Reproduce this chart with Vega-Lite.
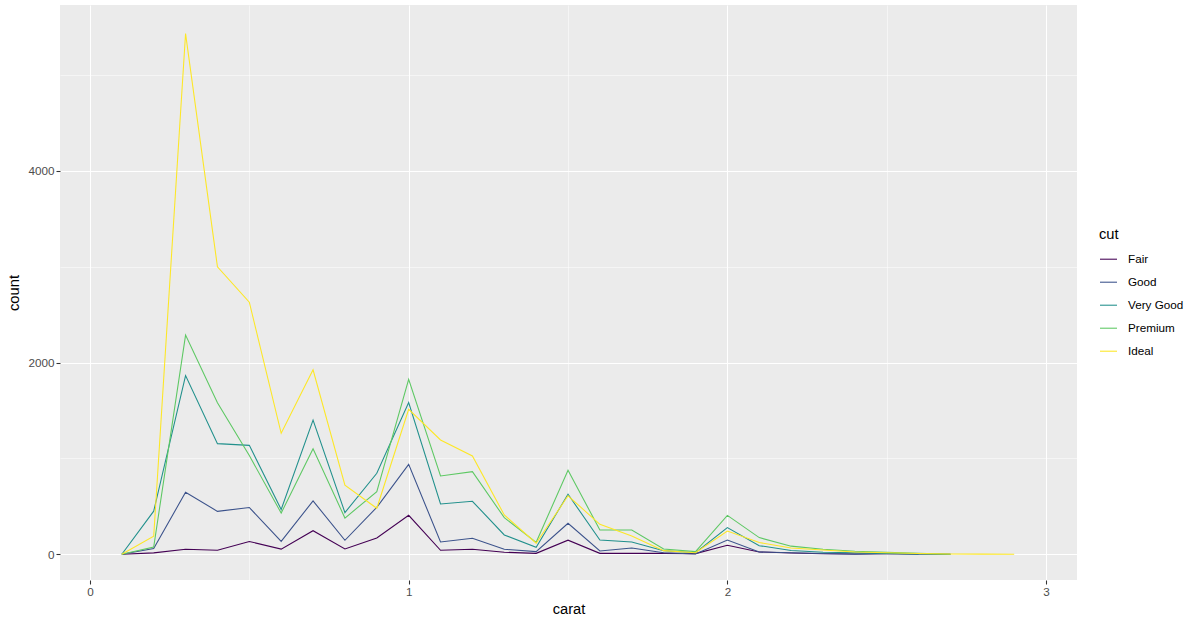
{
  "$schema": "https://vega.github.io/schema/vega-lite/v6.json",
  "width": 1017,
  "height": 575,
  "autosize": {"type": "none"},
  "padding": {"left": 60, "top": 5, "right": 123, "bottom": 45},
  "background": "white",
  "config": {
    "font": "Liberation Sans",
    "view": {"fill": "#EBEBEB", "stroke": null}
  },
  "datasets": {
    "freq": [
      {"carat": 0.1, "cut": "Fair", "count": 0},
      {"carat": 0.2, "cut": "Fair", "count": 15},
      {"carat": 0.3, "cut": "Fair", "count": 52},
      {"carat": 0.4, "cut": "Fair", "count": 43},
      {"carat": 0.5, "cut": "Fair", "count": 134},
      {"carat": 0.6, "cut": "Fair", "count": 54},
      {"carat": 0.7, "cut": "Fair", "count": 246},
      {"carat": 0.8, "cut": "Fair", "count": 56},
      {"carat": 0.9, "cut": "Fair", "count": 170},
      {"carat": 1.0, "cut": "Fair", "count": 407},
      {"carat": 1.1, "cut": "Fair", "count": 42},
      {"carat": 1.2, "cut": "Fair", "count": 52},
      {"carat": 1.3, "cut": "Fair", "count": 21},
      {"carat": 1.4, "cut": "Fair", "count": 10},
      {"carat": 1.5, "cut": "Fair", "count": 147},
      {"carat": 1.6, "cut": "Fair", "count": 10},
      {"carat": 1.7, "cut": "Fair", "count": 10},
      {"carat": 1.8, "cut": "Fair", "count": 10},
      {"carat": 1.9, "cut": "Fair", "count": 7},
      {"carat": 2.0, "cut": "Fair", "count": 94},
      {"carat": 2.1, "cut": "Fair", "count": 24},
      {"carat": 2.2, "cut": "Fair", "count": 14},
      {"carat": 2.3, "cut": "Fair", "count": 6},
      {"carat": 2.4, "cut": "Fair", "count": 4},
      {"carat": 2.5, "cut": "Fair", "count": 5},
      {"carat": 2.6, "cut": "Fair", "count": 3},
      {"carat": 2.7, "cut": "Fair", "count": 0},

      {"carat": 0.1, "cut": "Good", "count": 0},
      {"carat": 0.2, "cut": "Good", "count": 60},
      {"carat": 0.3, "cut": "Good", "count": 647},
      {"carat": 0.4, "cut": "Good", "count": 448},
      {"carat": 0.5, "cut": "Good", "count": 488},
      {"carat": 0.6, "cut": "Good", "count": 134},
      {"carat": 0.7, "cut": "Good", "count": 557},
      {"carat": 0.8, "cut": "Good", "count": 146},
      {"carat": 0.9, "cut": "Good", "count": 490},
      {"carat": 1.0, "cut": "Good", "count": 938},
      {"carat": 1.1, "cut": "Good", "count": 129},
      {"carat": 1.2, "cut": "Good", "count": 167},
      {"carat": 1.3, "cut": "Good", "count": 52},
      {"carat": 1.4, "cut": "Good", "count": 28},
      {"carat": 1.5, "cut": "Good", "count": 323},
      {"carat": 1.6, "cut": "Good", "count": 35},
      {"carat": 1.7, "cut": "Good", "count": 66},
      {"carat": 1.8, "cut": "Good", "count": 17},
      {"carat": 1.9, "cut": "Good", "count": 3},
      {"carat": 2.0, "cut": "Good", "count": 149},
      {"carat": 2.1, "cut": "Good", "count": 24},
      {"carat": 2.2, "cut": "Good", "count": 17},
      {"carat": 2.3, "cut": "Good", "count": 8},
      {"carat": 2.4, "cut": "Good", "count": 2},
      {"carat": 2.5, "cut": "Good", "count": 10},
      {"carat": 2.6, "cut": "Good", "count": 0},

      {"carat": 0.1, "cut": "Very Good", "count": 0},
      {"carat": 0.2, "cut": "Very Good", "count": 450},
      {"carat": 0.3, "cut": "Very Good", "count": 1863},
      {"carat": 0.4, "cut": "Very Good", "count": 1154},
      {"carat": 0.5, "cut": "Very Good", "count": 1136},
      {"carat": 0.6, "cut": "Very Good", "count": 467},
      {"carat": 0.7, "cut": "Very Good", "count": 1400},
      {"carat": 0.8, "cut": "Very Good", "count": 435},
      {"carat": 0.9, "cut": "Very Good", "count": 845},
      {"carat": 1.0, "cut": "Very Good", "count": 1582},
      {"carat": 1.1, "cut": "Very Good", "count": 525},
      {"carat": 1.2, "cut": "Very Good", "count": 553},
      {"carat": 1.3, "cut": "Very Good", "count": 202},
      {"carat": 1.4, "cut": "Very Good", "count": 73},
      {"carat": 1.5, "cut": "Very Good", "count": 626},
      {"carat": 1.6, "cut": "Very Good", "count": 149},
      {"carat": 1.7, "cut": "Very Good", "count": 128},
      {"carat": 1.8, "cut": "Very Good", "count": 38},
      {"carat": 1.9, "cut": "Very Good", "count": 17},
      {"carat": 2.0, "cut": "Very Good", "count": 278},
      {"carat": 2.1, "cut": "Very Good", "count": 90},
      {"carat": 2.2, "cut": "Very Good", "count": 40},
      {"carat": 2.3, "cut": "Very Good", "count": 21},
      {"carat": 2.4, "cut": "Very Good", "count": 17},
      {"carat": 2.5, "cut": "Very Good", "count": 10},
      {"carat": 2.6, "cut": "Very Good", "count": 4},
      {"carat": 2.7, "cut": "Very Good", "count": 0},

      {"carat": 0.1, "cut": "Premium", "count": 0},
      {"carat": 0.2, "cut": "Premium", "count": 75},
      {"carat": 0.3, "cut": "Premium", "count": 2286},
      {"carat": 0.4, "cut": "Premium", "count": 1580},
      {"carat": 0.5, "cut": "Premium", "count": 1030},
      {"carat": 0.6, "cut": "Premium", "count": 430},
      {"carat": 0.7, "cut": "Premium", "count": 1100},
      {"carat": 0.8, "cut": "Premium", "count": 378},
      {"carat": 0.9, "cut": "Premium", "count": 653},
      {"carat": 1.0, "cut": "Premium", "count": 1825},
      {"carat": 1.1, "cut": "Premium", "count": 817},
      {"carat": 1.2, "cut": "Premium", "count": 862},
      {"carat": 1.3, "cut": "Premium", "count": 382},
      {"carat": 1.4, "cut": "Premium", "count": 125},
      {"carat": 1.5, "cut": "Premium", "count": 876},
      {"carat": 1.6, "cut": "Premium", "count": 253},
      {"carat": 1.7, "cut": "Premium", "count": 253},
      {"carat": 1.8, "cut": "Premium", "count": 56},
      {"carat": 1.9, "cut": "Premium", "count": 28},
      {"carat": 2.0, "cut": "Premium", "count": 406},
      {"carat": 2.1, "cut": "Premium", "count": 174},
      {"carat": 2.2, "cut": "Premium", "count": 85},
      {"carat": 2.3, "cut": "Premium", "count": 52},
      {"carat": 2.4, "cut": "Premium", "count": 31},
      {"carat": 2.5, "cut": "Premium", "count": 21},
      {"carat": 2.6, "cut": "Premium", "count": 10},
      {"carat": 2.7, "cut": "Premium", "count": 0},

      {"carat": 0.1, "cut": "Ideal", "count": 0},
      {"carat": 0.2, "cut": "Ideal", "count": 188},
      {"carat": 0.3, "cut": "Ideal", "count": 5430},
      {"carat": 0.4, "cut": "Ideal", "count": 2998},
      {"carat": 0.5, "cut": "Ideal", "count": 2629},
      {"carat": 0.6, "cut": "Ideal", "count": 1262},
      {"carat": 0.7, "cut": "Ideal", "count": 1924},
      {"carat": 0.8, "cut": "Ideal", "count": 720},
      {"carat": 0.9, "cut": "Ideal", "count": 480},
      {"carat": 1.0, "cut": "Ideal", "count": 1512},
      {"carat": 1.1, "cut": "Ideal", "count": 1192},
      {"carat": 1.2, "cut": "Ideal", "count": 1025},
      {"carat": 1.3, "cut": "Ideal", "count": 410},
      {"carat": 1.4, "cut": "Ideal", "count": 115},
      {"carat": 1.5, "cut": "Ideal", "count": 610},
      {"carat": 1.6, "cut": "Ideal", "count": 313},
      {"carat": 1.7, "cut": "Ideal", "count": 191},
      {"carat": 1.8, "cut": "Ideal", "count": 38},
      {"carat": 1.9, "cut": "Ideal", "count": 17},
      {"carat": 2.0, "cut": "Ideal", "count": 243},
      {"carat": 2.1, "cut": "Ideal", "count": 122},
      {"carat": 2.2, "cut": "Ideal", "count": 65},
      {"carat": 2.3, "cut": "Ideal", "count": 45},
      {"carat": 2.4, "cut": "Ideal", "count": 24},
      {"carat": 2.5, "cut": "Ideal", "count": 17},
      {"carat": 2.6, "cut": "Ideal", "count": 8},
      {"carat": 2.7, "cut": "Ideal", "count": 3},
      {"carat": 2.8, "cut": "Ideal", "count": 2},
      {"carat": 2.9, "cut": "Ideal", "count": 0}
    ]
  },
  "data": {"name": "freq"},
  "mark": {"type": "line", "strokeWidth": 1.07, "clip": true},
  "encoding": {
    "x": {
      "field": "carat",
      "type": "quantitative",
      "scale": {"domain": [-0.094, 3.097], "nice": false, "zero": false},
      "axis": {
        "values": [0, 0.5, 1, 1.5, 2, 2.5, 3],
        "labelExpr": "datum.value % 1 === 0 ? format(datum.value, 'd') : ''",
        "grid": true,
        "gridColor": "white",
        "gridWidth": {"condition": {"test": "datum.value % 1 === 0", "value": 1.07}, "value": 0.53},
        "tickOpacity": {"condition": {"test": "datum.value % 1 === 0", "value": 1}, "value": 0},
        "domain": false,
        "tickColor": "#333333",
        "tickSize": 4,
        "tickWidth": 1.07,
        "labelColor": "#4D4D4D",
        "labelFontSize": 11.7,
        "labelPadding": 2,
        "title": "carat",
        "titleFontSize": 14.7,
        "titleFontWeight": "normal",
        "titleColor": "black",
        "titlePadding": 4
      }
    },
    "y": {
      "field": "count",
      "type": "quantitative",
      "scale": {"domain": [-268, 5728], "nice": false, "zero": false},
      "axis": {
        "values": [0, 1000, 2000, 3000, 4000, 5000],
        "labelExpr": "datum.value % 2000 === 0 ? format(datum.value, 'd') : ''",
        "grid": true,
        "gridColor": "white",
        "gridWidth": {"condition": {"test": "datum.value % 2000 === 0", "value": 1.07}, "value": 0.53},
        "tickOpacity": {"condition": {"test": "datum.value % 2000 === 0", "value": 1}, "value": 0},
        "domain": false,
        "tickColor": "#333333",
        "tickSize": 4,
        "tickWidth": 1.07,
        "labelColor": "#4D4D4D",
        "labelFontSize": 11.7,
        "labelPadding": 2,
        "title": "count",
        "titleFontSize": 14.7,
        "titleFontWeight": "normal",
        "titleColor": "black",
        "titlePadding": 6
      }
    },
    "color": {
      "field": "cut",
      "type": "nominal",
      "sort": ["Fair", "Good", "Very Good", "Premium", "Ideal"],
      "scale": {
        "domain": ["Fair", "Good", "Very Good", "Premium", "Ideal"],
        "range": ["#440154", "#3B528B", "#21908C", "#5DC863", "#FDE725"]
      },
      "legend": {
        "orient": "none",
        "legendX": 1039,
        "legendY": 222,
        "title": "cut",
        "titleFontSize": 14.7,
        "titleFontWeight": "normal",
        "titleColor": "black",
        "titlePadding": 8,
        "symbolType": "stroke",
        "symbolSize": 289,
        "symbolStrokeWidth": 1.07,
        "labelFontSize": 11.7,
        "labelColor": "black",
        "labelOffset": 10,
        "rowPadding": 6,
        "padding": 0
      }
    }
  }
}
